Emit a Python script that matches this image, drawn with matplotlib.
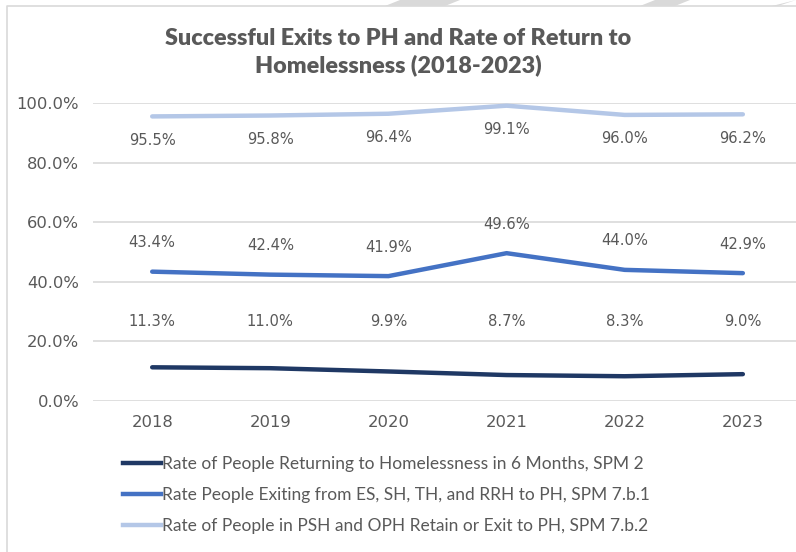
import numpy as np
import matplotlib.pyplot as plt
from matplotlib.patches import Polygon
from matplotlib.lines import Line2D

years = ['2018', '2019', '2020', '2021', '2022', '2023']
returns = [11.3, 11.0, 9.9, 8.7, 8.3, 9.0]
exits = [43.4, 42.4, 41.9, 49.6, 44.0, 42.9]
retain = [95.5, 95.8, 96.4, 99.1, 96.0, 96.2]

names = ['Rate of People Returning to Homelessness in 6 Months, SPM 2',
         'Rate People Exiting from ES, SH, TH, and RRH to PH, SPM 7.b.1',
         'Rate of People in PSH and OPH Retain or Exit to PH, SPM 7.b.2']
colors = ['#1F3864', '#4472C4', '#B4C7E7']

plt.rcParams['font.family'] = ['Lato', 'DejaVu Sans']
num_font = ['DejaVu Sans']
txt = '#595959'

fig = plt.figure(figsize=(7.96, 5.52), dpi=100)
ax = fig.add_axes([0.117, 0.2736, 0.883, 0.5398])

x = np.arange(len(years))
ax.plot(x, returns, color=colors[0], lw=3.2, solid_capstyle='round', zorder=3)
ax.plot(x, exits, color=colors[1], lw=3.2, solid_capstyle='round', zorder=3)
ax.plot(x, retain, color=colors[2], lw=3.2, solid_capstyle='round', zorder=3,
        clip_on=False)

# data labels
for i in x:
    ax.text(i, 26.8, f'{returns[i]:.1f}%', ha='center', va='center',
            fontsize=10.6, color=txt, family=num_font)
    ax.annotate(f'{exits[i]:.1f}%', (i, exits[i]), xytext=(0, 29),
                textcoords='offset pixels', ha='center', va='center',
                fontsize=10.6, color=txt, family=num_font)
    ax.annotate(f'{retain[i]:.1f}%', (i, retain[i]), xytext=(0, -24),
                textcoords='offset pixels', ha='center', va='center',
                fontsize=10.6, color=txt, family=num_font)

ax.set_xlim(-0.5, 5.45)
ax.set_ylim(0, 100)
ax.set_xticks(x)
ax.set_xticklabels(years, family=num_font)
ax.set_yticks(np.arange(0, 101, 20))
ax.set_yticklabels([f'{v:.1f}%' for v in np.arange(0, 101, 20)], family=num_font)
ax.tick_params(length=0, labelsize=11.8, colors=txt, pad=10)
ax.grid(axis='y', color='#D9D9D9', lw=1.2)
ax.set_axisbelow(True)
for s in ax.spines.values():
    s.set_visible(False)

fig.text(0.5, 0.906, 'Successful Exits to PH and Rate of Return to\nHomelessness (2018-2023)',
         ha='center', va='center', fontsize=16.8, fontweight='heavy',
         color=txt, linespacing=1.32)

handles = [Line2D([], [], color=c, lw=3.2) for c in colors]
fig.legend(handles, names, loc='upper left', bbox_to_anchor=(0.143, 0.19),
           frameon=False, fontsize=12.5, handlelength=2.2, handletextpad=0.1,
           labelspacing=0.88, borderpad=0, labelcolor=txt)

# chart border and the decorative strip at the top
fig.add_artist(Line2D([7 / 796, 7 / 796, 1], [0, 1 - 6 / 552, 1 - 6 / 552],
                      color='#D9D9D9', lw=1.2))
h = 6 / 552
for x0, x1, x2, x3 in [(385, 400, 460, 445), (640, 655, 690, 675), (778, 796, 796, 772)]:
    fig.add_artist(Polygon([(x0 / 796, 1 - h), (x1 / 796, 1), (x2 / 796, 1), (x3 / 796, 1 - h)],
                           closed=True, color='#D9D9D9', lw=0))

fig.savefig('out.png', dpi=100)
